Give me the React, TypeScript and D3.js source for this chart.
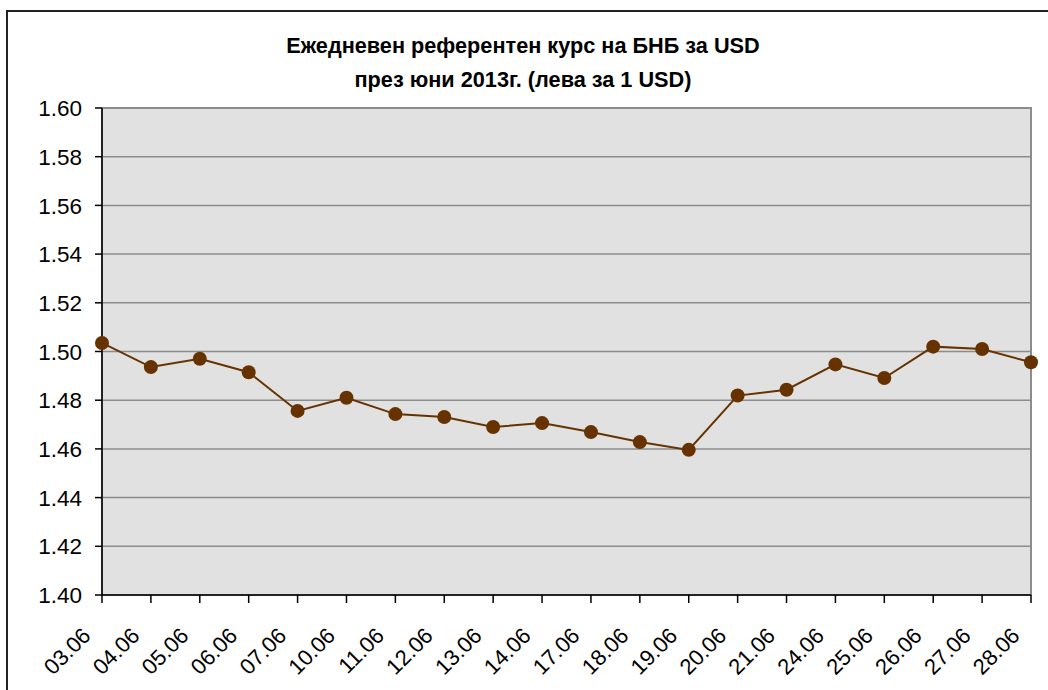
import React from "react";
import * as d3 from "d3";

const dates = ["03.06","04.06","05.06","06.06","07.06","10.06","11.06","12.06","13.06","14.06","17.06","18.06","19.06","20.06","21.06","24.06","25.06","26.06","27.06","28.06"];
const rates = [1.5035,1.4936,1.4970,1.4915,1.4756,1.4810,1.4743,1.4731,1.4690,1.4706,1.4669,1.4628,1.4596,1.4819,1.4843,1.4947,1.4891,1.5020,1.5010,1.4956];
const yTicks = [1.40,1.42,1.44,1.46,1.48,1.50,1.52,1.54,1.56,1.58,1.60];
const titleLines = ["Ежедневен референтен курс на БНБ за USD", "през юни 2013г. (лева за 1 USD)"];

const W = 1048, H = 690;
const left = 102, right = 1031, top = 108, bottom = 595;

export default function App() {
  const x = d3.scalePoint<string>().domain(dates).range([left, right]);
  const y = d3.scaleLinear().domain([1.40, 1.60]).range([bottom, top]);
  const line = d3.line<number>().x((_, i) => x(dates[i]) as number).y(d => y(d));
  const font = "Arial, 'Liberation Sans', sans-serif";
  return (
    <svg width={W} height={H} style={{ position: "absolute", left: 0, top: 0, background: "#fff" }} fontFamily={font}>
      <rect x={7} y={11} width={1200} height={900} fill="#fff" stroke="#222" strokeWidth={2} />
      {titleLines.map((t, i) => (
        <text key={i} x={523} y={53 + i * 34} textAnchor="middle" fontWeight="bold" fontSize={21.7} fill="#000">{t}</text>
      ))}
      <rect x={left} y={top} width={right - left} height={bottom - top} fill="#e1e1e1" stroke="#8c8c8c" strokeWidth={2} />
      {yTicks.slice(1).map(t => (
        <line key={t} x1={left} x2={right} y1={y(t)} y2={y(t)} stroke="#8c8c8c" strokeWidth={1.5} />
      ))}
      <line x1={left} x2={left} y1={top} y2={bottom} stroke="#000" strokeWidth={1.5} />
      <line x1={left} x2={right} y1={bottom} y2={bottom} stroke="#000" strokeWidth={1.5} />
      {yTicks.map(t => (
        <g key={t}>
          <line x1={left - 7} x2={left} y1={y(t)} y2={y(t)} stroke="#000" strokeWidth={1.5} />
          <text x={82} y={y(t)} dy="0.36em" textAnchor="end" fontSize={22.5} fill="#000">{t.toFixed(2)}</text>
        </g>
      ))}
      {dates.map((d, i) => {
        const xs = x(d) as number;
        return (
          <g key={d}>
            <line x1={xs} x2={xs} y1={bottom} y2={bottom + 8} stroke="#000" strokeWidth={1.5} />
            <text transform={`translate(${xs - 10},${bottom + 42}) rotate(-45)`} textAnchor="end" fontSize={22} fill="#000">{d}</text>
          </g>
        );
      })}
      <path d={line(rates) as string} fill="none" stroke="#663300" strokeWidth={2} />
      {rates.map((v, i) => (
        <circle key={i} cx={x(dates[i]) as number} cy={y(v)} r={7} fill="#663300" />
      ))}
    </svg>
  );
}
